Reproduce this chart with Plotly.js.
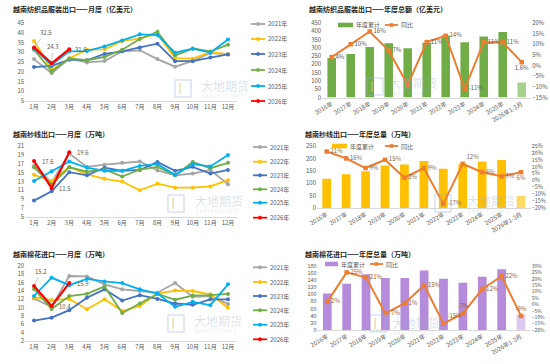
<!DOCTYPE html>
<html><head><meta charset="utf-8">
<script src="https://cdn.plot.ly/plotly-3.0.1.min.js"></script>
<style>html,body{margin:0;padding:0;background:#fff}#c{width:550px;height:364px}</style>
</head><body><div id="c"></div>
<script>
// ---------- data ----------
const months = ['1月','2月','3月','4月','5月','6月','7月','8月','9月','10月','11月','12月'];
const years = ['2021年','2022年','2023年','2024年','2025年','2026年'];
const annualCats = ['2016年','2017年','2018年','2019年','2020年','2021年','2022年','2023年','2024年','2025年','2026年1-3月'];

// 越南纺织品服装出口 月度（亿美元）
const textile2021 = [26.5, 19.2, 26.8, 24.8, 25.5, 30.5, 31.0, 26.5, 22.6, 25.5, 29.6, 29.0];
const textile2022 = [35.8, 21.0, 26.8, 31.3, 31.5, 35.8, 37.0, 39.5, 27.0, 26.7, 30.0, 29.0];
const textile2023 = [22.4, 23.0, 26.2, 25.9, 29.1, 30.5, 32.5, 34.4, 25.4, 25.4, 27.3, 28.9];
const textile2024 = [31.3, 20.2, 26.8, 25.9, 27.6, 31.3, 36.8, 40.5, 28.4, 31.9, 30.4, 33.9];
const textile2025 = [31.8, 23.5, 30.5, 30.6, 33.0, 36.0, 39.2, 38.8, 29.8, 31.8, 29.8, 36.5];
const textile2026 = [32.5, 24.3, 31.6];

// 越南纱线出口 月度（万吨）
const yarn2021 = [16.5, 12.8, 19.3, 16.3, 16.8, 17.2, 17.5, 15.5, 14.4, 14.8, 15.6, 12.4];
const yarn2022 = [14.5, 13.1, 16.3, 14.6, 13.6, 13.0, 11.0, 12.5, 11.6, 11.6, 11.9, 13.3];
const yarn2023 = [8.7, 10.8, 15.1, 14.4, 16.1, 15.4, 15.6, 17.4, 15.4, 16.3, 14.8, 15.6];
const yarn2024 = [16.2, 12.3, 16.2, 15.2, 15.7, 14.1, 15.7, 16.3, 14.4, 17.4, 16.0, 17.2];
const yarn2025 = [13.1, 15.3, 17.5, 16.1, 15.4, 15.4, 16.5, 16.9, 14.5, 16.9, 16.4, 19.0];
const yarn2026 = [17.6, 11.5, 19.6];

// 越南棉花进口 月度（万吨）
const cotton2021 = [12.2, 10.2, 17.6, 17.5, 15.6, 14.4, 14.0, 13.6, 15.9, 12.6, 12.8, 10.9];
const cotton2022 = [12.5, 11.8, 12.1, 9.6, 12.0, 9.2, 10.4, 13.4, 14.1, 14.0, 13.2, 10.0];
const cotton2023 = [6.9, 7.6, 9.4, 12.4, 14.4, 11.7, 13.0, 12.1, 11.0, 10.7, 12.0, 12.0];
const cotton2024 = [14.5, 9.7, 12.8, 13.3, 15.1, 8.7, 11.0, 13.3, 11.9, 12.9, 13.0, 13.3];
const cotton2025 = [12.8, 17.2, 15.4, 16.9, 16.3, 15.9, 14.4, 13.4, 10.2, 11.4, 10.6, 15.6];
const cotton2026 = [15.2, 10.4, 15.9];

// 年度
const textileAnnual = [239, 262, 305, 327, 297, 331, 374, 333, 368, 395, 90];
const textileYoY = [4, 10, 16, 7, -9, 11, 14, -11, 11, 11, 1.6];
const yarnAnnual = [118, 136, 148, 171, 175, 190, 158, 176, 188, 194, 49];
const yarnYoY = [21, 16, 9, 15, 2, 9, -17, 12, 6, 3, 6];
const cottonAnnual = [103, 130, 157, 146, 146, 167, 144, 133, 150, 171, 43];
const cottonYoY = [2, 25, 21, -7, 1, 15, -15, -7, 12, 22, -9];

// ---------- helpers ----------
const W = 550, H = 364;
const px = x => x / W, py = y => 1 - y / H;
const FONT = '"Noto Sans CJK SC", "Noto Sans", sans-serif';
const TICK = {family: FONT, size: 6, color: '#595959'};
const yearColors = ['#A5A5A5', '#FFC000', '#4472C4', '#70AD47', '#00B0F0', '#FF0000'];
const ORANGE = '#ED7D31';

const traces = [];
const shapes = [];
const annotations = [];
const layout = {
  width: W, height: H, margin: {l: 0, r: 0, t: 0, b: 0},
  paper_bgcolor: '#fff', plot_bgcolor: 'rgba(0,0,0,0)',
  showlegend: false, font: {family: FONT},
  shapes: shapes, annotations: annotations
};

function addTitle(text, x, y) {
  annotations.push({xref: 'paper', yref: 'paper', x: px(x), y: py(y), xanchor: 'left', yanchor: 'middle',
    text: '<b>' + text + '</b>', showarrow: false, font: {family: FONT, size: 7, color: '#262626'}});
}

function watermark(lx, ly, tx, ty) {
  shapes.push({type: 'rect', xref: 'paper', yref: 'paper', x0: px(lx), x1: px(lx + 16), y0: py(ly + 17), y1: py(ly),
    line: {color: 'rgba(150,175,215,0.35)', width: 1.5}, fillcolor: 'rgba(0,0,0,0)', layer: 'above'});
  shapes.push({type: 'line', xref: 'paper', yref: 'paper', x0: px(lx + 5), x1: px(lx + 5), y0: py(ly + 14), y1: py(ly + 3),
    line: {color: 'rgba(225,195,120,0.45)', width: 2}, layer: 'above'});
  annotations.push({xref: 'paper', yref: 'paper', x: px(tx), y: py(ty), xanchor: 'left', yanchor: 'middle', showarrow: false,
    text: '大地期货', font: {family: FONT, size: 12, color: 'rgba(150,170,200,0.35)'}});
  annotations.push({xref: 'paper', yref: 'paper', x: px(tx + 1), y: py(ty + 11), xanchor: 'left', yanchor: 'middle', showarrow: false,
    text: 'D A D I  F U T U R E S', font: {family: FONT, size: 4.5, color: 'rgba(150,170,200,0.35)'}});
}

function linePanel(n, series, range, dtick, top, bottom, legendYs, legX) {
  const sfx = n === 1 ? '' : String(n);
  const xa = 'xaxis' + sfx, ya = 'yaxis' + sfx;
  const xr = 'x' + sfx, yr = 'y' + sfx;
  layout[xa] = {domain: [px(25.2), px(236.8)], anchor: yr, type: 'category', range: [-0.5, 11.5],
    showline: true, linecolor: '#D9D9D9', linewidth: 1, ticks: '', showgrid: false, zeroline: false,
    tickfont: TICK, fixedrange: true};
  layout[ya] = {domain: [py(bottom), py(top)], anchor: xr, range: range, tick0: range[0], dtick: dtick,
    showgrid: false, zeroline: false, showline: false, ticks: '', tickfont: TICK, fixedrange: true};
  series.forEach((vals, i) => {
    traces.push({type: 'scatter', mode: 'lines+markers', name: years[i], x: months.slice(0, vals.length), y: vals,
      xaxis: xr, yaxis: yr, line: {color: yearColors[i], width: i === 5 ? 2.2 : 1.8},
      marker: {color: yearColors[i], size: 4}, showlegend: false, hoverinfo: 'x+y'});
    // manual legend entry
    const ly = legendYs[i];
    shapes.push({type: 'line', xref: 'paper', yref: 'paper', x0: px(legX), x1: px(legX + 14), y0: py(ly), y1: py(ly),
      line: {color: yearColors[i], width: 1.8}});
    shapes.push({type: 'circle', xref: 'paper', yref: 'paper', x0: px(legX + 5.3), x1: px(legX + 8.7), y0: py(ly + 1.7), y1: py(ly - 1.7),
      line: {color: yearColors[i], width: 0.5}, fillcolor: yearColors[i]});
    annotations.push({xref: 'paper', yref: 'paper', x: px(legX + 14.5), y: py(ly), xanchor: 'left', yanchor: 'middle',
      showarrow: false, text: years[i], font: TICK});
  });
  return {xr, yr};
}

function barPanel(n, cats, annual, yoy, barColor, lastColor, left, right, yl, yr2, top, bottom, textPos, labelColor, hide, leg) {
  const xa = 'xaxis' + n, xr = 'x' + n;
  const yla = 'yaxis' + n, ylr = 'y' + n;
  const yra = 'yaxis' + (10 + n), yrr = 'y' + (10 + n);
  layout[xa] = {domain: [px(left), px(right)], anchor: ylr, type: 'category', range: [-0.5, 10.5],
    showline: true, linecolor: '#D9D9D9', linewidth: 1, ticks: '', showgrid: false, zeroline: false,
    tickangle: -30, tickfont: TICK, fixedrange: true};
  layout[yla] = {domain: [py(bottom), py(top)], anchor: xr, range: yl.range, dtick: yl.dtick, tick0: 0,
    showgrid: false, zeroline: false, ticks: '', tickfont: Object.assign({}, TICK, {size: yl.fs || 6}), fixedrange: true};
  layout[yra] = {overlaying: ylr, anchor: xr, side: 'right', range: yr2.range, dtick: yr2.dtick, tick0: 0,
    ticksuffix: '%', showgrid: false, zeroline: false, ticks: '', tickfont: Object.assign({}, TICK, {size: yr2.fs || 6}), fixedrange: true};
  traces.push({type: 'bar', name: '年度累计', x: cats, y: annual, xaxis: xr, yaxis: ylr, width: 0.45,
    marker: {color: cats.map((c, i) => i === cats.length - 1 ? lastColor : barColor)}, showlegend: false});
  traces.push({type: 'scatter', mode: 'lines+markers+text', name: '同比', x: cats, y: yoy, xaxis: xr, yaxis: yrr,
    line: {color: ORANGE, width: 2}, marker: {color: ORANGE, symbol: 'square', size: 4.5},
    text: yoy.map((v, i) => hide.includes(i) ? '' : v + '%'), textposition: textPos,
    textfont: {family: FONT, size: 6, color: labelColor}, cliponaxis: false, showlegend: false});
  // manual legend
  shapes.push({type: 'rect', xref: 'paper', yref: 'paper', x0: px(leg.rx0), x1: px(leg.rx1), y0: py(leg.y + 2.3), y1: py(leg.y - 2.3),
    line: {width: 0}, fillcolor: barColor});
  annotations.push({xref: 'paper', yref: 'paper', x: px(leg.rx1 + 1), y: py(leg.y), xanchor: 'left', yanchor: 'middle',
    showarrow: false, text: '年度累计', font: TICK});
  shapes.push({type: 'line', xref: 'paper', yref: 'paper', x0: px(leg.lx0), x1: px(leg.lx0 + 13), y0: py(leg.y), y1: py(leg.y),
    line: {color: ORANGE, width: 1.8}});
  shapes.push({type: 'rect', xref: 'paper', yref: 'paper', x0: px(leg.lx0 + 4.7), x1: px(leg.lx0 + 8.3), y0: py(leg.y + 1.8), y1: py(leg.y - 1.8),
    line: {width: 0}, fillcolor: ORANGE});
  annotations.push({xref: 'paper', yref: 'paper', x: px(leg.lx0 + 14), y: py(leg.y), xanchor: 'left', yanchor: 'middle',
    showarrow: false, text: '同比', font: TICK});
}

// ---------- panel 1 ----------
addTitle('越南纺织品服装出口——月度（亿美元）', 11, 9);
const p1 = linePanel(1, [textile2021, textile2022, textile2023, textile2024, textile2025, textile2026],
  [5, 45], 5, 23, 101, [24, 39, 54, 70, 86, 101], 251);
watermark(175, 80, 199, 85);
const lab = (ax, ay, xi, arr, dx, dy, arrow) => annotations.push({xref: ax, yref: ay, x: months[xi], y: arr[xi],
  text: arr[xi].toFixed(1), font: {family: FONT, size: 6, color: '#595959'},
  showarrow: !!arrow, arrowhead: 0, arrowwidth: 0.6, arrowcolor: '#A6A6A6', ax: dx, ay: -dy,
  xshift: arrow ? 0 : dx, yshift: arrow ? 0 : dy, standoff: 2});
lab(p1.xr, p1.yr, 0, textile2026, 12, 15, true);
lab(p1.xr, p1.yr, 1, textile2026, 1, 17, true);
lab(p1.xr, p1.yr, 2, textile2026, 12, 0, false);

// ---------- panel 3 ----------
addTitle('越南纱线出口——月度（万吨）', 11, 134);
const p3 = linePanel(3, [yarn2021, yarn2022, yarn2023, yarn2024, yarn2025, yarn2026],
  [5, 21], 2, 146, 217, [147, 161.7, 175.3, 189.3, 202.7, 217.7], 253);
watermark(168, 195, 193, 200);
lab(p3.xr, p3.yr, 0, yarn2026, 14, 0, false);
lab(p3.xr, p3.yr, 1, yarn2026, 13, 0, false);
lab(p3.xr, p3.yr, 2, yarn2026, 14, 0, false);

// ---------- panel 5 ----------
addTitle('越南棉花进口——月度（万吨）', 11, 254);
const p5 = linePanel(5, [cotton2021, cotton2022, cotton2023, cotton2024, cotton2025, cotton2026],
  [2, 20], 2, 266, 341, [267.3, 282, 296, 310.3, 324.7, 339.3], 253);
watermark(168, 315, 192, 320);
lab(p5.xr, p5.yr, 0, cotton2026, 7, 15, true);
lab(p5.xr, p5.yr, 1, cotton2026, 13, 0, false);
lab(p5.xr, p5.yr, 2, cotton2026, 14, 0, false);

// ---------- panel 2 ----------
addTitle('越南纺织品服装出口——年度总额（亿美元）', 307, 9);
barPanel(2, annualCats, textileAnnual, textileYoY, '#70AD47', '#A9D18E', 322.2, 531.2,
  {range: [0, 450], dtick: 50}, {range: [-15, 20], dtick: 5}, 23, 97.5,
  ['middle right','middle right','middle right','middle right','middle right','middle right','middle right','middle right','middle right','middle right','bottom center'],
  '#595959', [4], {rx0: 338, rx1: 353, lx0: 385, y: 25});
watermark(367, 78, 387, 83);

// ---------- panel 4 ----------
addTitle('越南纱线出口——年度总量（万吨）', 303, 134);
barPanel(4, annualCats, yarnAnnual, yarnYoY, '#FFC000', '#FFD966', 317, 530.7,
  {range: [0, 250], dtick: 50}, {range: [-20, 25], dtick: 5, fs: 5.5}, 146, 208,
  ['middle right','middle right','middle right','middle right','middle right','middle right','middle right','top right','middle right','middle right','bottom center'],
  '#7F6A55', [], {rx0: 332, rx1: 347, lx0: 385, y: 146});
watermark(435, 195, 465, 200);

// ---------- panel 6 ----------
addTitle('越南棉花进口——年度总量（万吨）', 303, 254);
barPanel(6, annualCats, cottonAnnual, cottonYoY, '#B48CDB', '#DCC8F0', 317.6, 530.7,
  {range: [0, 180], dtick: 20, fs: 5.5}, {range: [-20, 30], dtick: 5, fs: 5}, 266, 330,
  ['middle right','middle right','middle right','middle right','middle right','middle right','top right','top center','middle right','middle right','top center'],
  '#9C5A2E', [], {rx0: 325, rx1: 338, lx0: 370, y: 264});
watermark(370, 315, 390, 322);

Plotly.newPlot('c', traces, layout, {staticPlot: true, displayModeBar: false});
</script>
</body></html>
